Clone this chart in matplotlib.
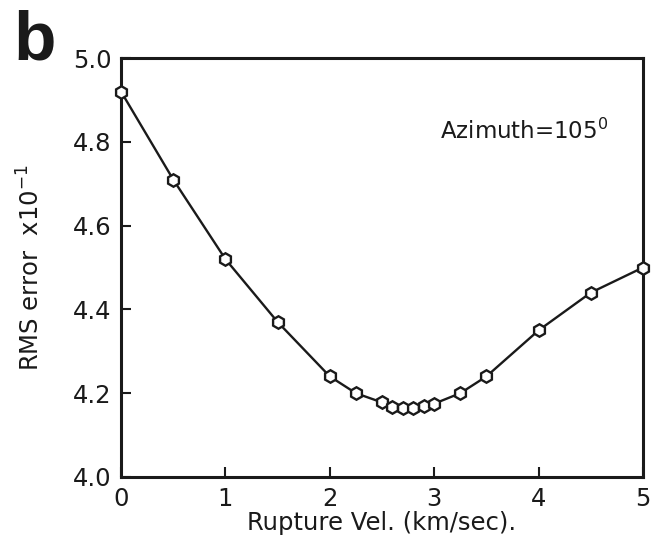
import matplotlib
matplotlib.use("Agg")
import matplotlib.pyplot as plt

plt.rcParams['font.family'] = ['DejaVu Sans']
plt.rcParams['mathtext.fontset'] = 'dejavusans'

velocity = [0.0, 0.5, 1.0, 1.5, 2.0, 2.25, 2.5, 2.6, 2.7, 2.8, 2.9, 3.0, 3.25, 3.5, 4.0, 4.5, 5.0]
rms_error = [4.92, 4.71, 4.52, 4.37, 4.24, 4.20, 4.178, 4.167, 4.165, 4.165, 4.170, 4.175, 4.20, 4.24, 4.35, 4.44, 4.50]
x_ticks = [0, 1, 2, 3, 4, 5]
y_ticks = [4.0, 4.2, 4.4, 4.6, 4.8, 5.0]

fig = plt.figure(figsize=(6.52, 5.48), dpi=100)
ax = fig.add_axes([121/652, 1 - 477/548, (643-121)/652, (477-58)/548])

ax.plot(velocity, rms_error, color='#1a1a1a', lw=1.7, marker='h', ms=9,
        mfc='white', mec='#1a1a1a', mew=1.7, clip_on=False, zorder=3)

ax.set_xlim(0, 5)
ax.set_ylim(4.0, 5.0)
ax.set_xticks(x_ticks)
ax.set_xticklabels([str(t) for t in x_ticks])
ax.set_yticks(y_ticks)
ax.set_yticklabels([f"{t:.1f}" for t in y_ticks])
ax.tick_params(direction='in', length=7, width=1.5, labelsize=17.5, pad=7,
               top=False, right=False, colors='#1a1a1a')
for s in ax.spines.values():
    s.set_linewidth(2.2)
    s.set_color('#1a1a1a')

ax.set_xlabel('Rupture Vel. (km/sec).', fontsize=17.5, labelpad=0, color='#1a1a1a')
ax.set_ylabel(r'RMS error  x10$^{-1}$', fontsize=17.5, labelpad=20, color='#1a1a1a')

ax.text(0.612, 0.808, r'Azimuth=105$^{0}$', transform=ax.transAxes, fontsize=16.5,
        color='#1a1a1a')

fig.text(13/652, 1 - 60/548, 'b', fontsize=50, fontweight='bold', color='#1a1a1a',
         family='Liberation Sans')

fig.savefig('out.png', dpi=100)
